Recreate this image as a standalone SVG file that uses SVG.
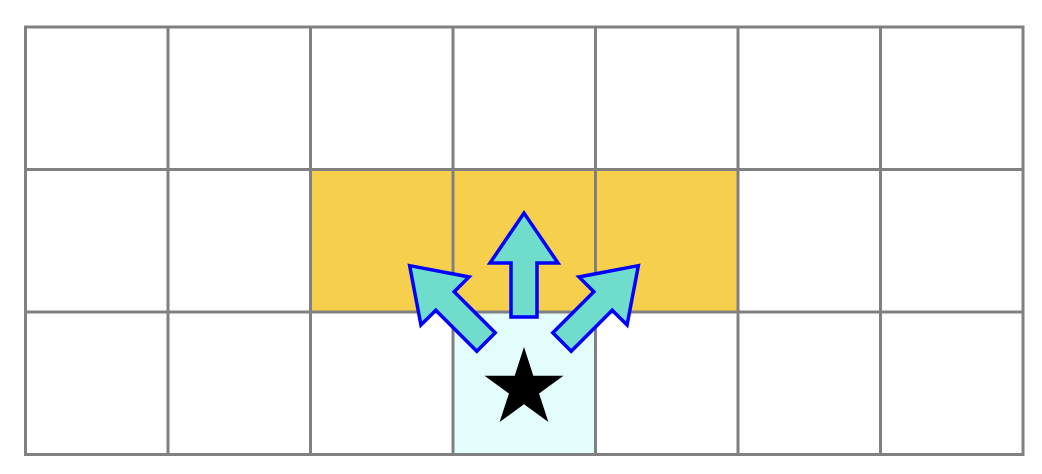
<svg xmlns="http://www.w3.org/2000/svg" width="1042" height="474" viewBox="0 0 1042 474">
<defs>
<style>
.grid{fill:none;stroke:#808080;stroke-width:3}
.arrow{fill:#70DCCB;stroke:#0000FF;stroke-width:3.5;stroke-linejoin:miter}
</style>
<path id="arrowUp" d="M-13,0 L13,0 L13,-54 L34,-54 L0,-104 L-34,-54 L-13,-54 Z"/>
<path id="arrowDiag" d="M-13,0 L13,0 L13,-58 L34,-58 L0,-108 L-34,-58 L-13,-58 Z"/>
</defs>
<rect width="1042" height="474" fill="#ffffff"/>
<g id="cells">
<rect x="310.5" y="169.5" width="427.5" height="142.5" fill="#F6D04D"/>
<rect x="453" y="312" width="142.5" height="142.5" fill="#E3FDFD"/>
</g>
<g id="grid" class="grid">
<rect x="25.5" y="27" width="997.5" height="427.5"/>
<path d="M168,27V454.5 M310.5,27V454.5 M453,27V454.5 M595.5,27V454.5 M738,27V454.5 M880.5,27V454.5 M25.5,169.5H1023 M25.5,312H1023"/>
</g>
<g id="arrows">
<use href="#arrowUp" class="arrow" transform="translate(524,317)"/>
<use href="#arrowDiag" class="arrow" transform="translate(486,342) rotate(-45)"/>
<use href="#arrowDiag" class="arrow" transform="translate(562,342) rotate(45)"/>
</g>
<g id="star">
<polygon points="524,347 533.32,375.68 563.47,375.68 539.07,393.4 548.39,422.07 524,404.35 499.61,422.07 508.93,393.4 484.53,375.68 514.68,375.68" fill="#000000"/>
</g>
</svg>
